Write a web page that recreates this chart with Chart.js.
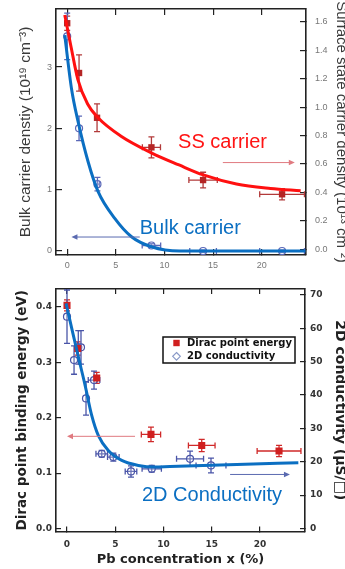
<!DOCTYPE html>
<html>
<head>
<meta charset="utf-8">
<script src="https://cdn.jsdelivr.net/npm/chart.js@4/dist/chart.umd.min.js"></script>
<style>
  html, body { margin: 0; padding: 0; background: #fff; }
  #wrap { position: relative; width: 345px; height: 569px; overflow: hidden; }
  #upper { position: absolute; left: 0; top: 0; }
  #lower { position: absolute; left: 0; top: 280px; }
</style>
</head>
<body>
<div id="wrap">
  <canvas id="upper" width="345" height="280"></canvas>
  <canvas id="lower" width="345" height="289"></canvas>
</div>
<script>
// Pb concentration x (%)
const xTickValues = [0, 5, 10, 15, 20];

// Upper panel: bulk carrier density (10^19 cm^-3, left) and surface-state carrier density (10^13 cm^-2, right)
const bulkTicks = [0, 1, 2, 3];
const ssTicks = [0, 0.2, 0.4, 0.6, 0.8, 1.0, 1.2, 1.4, 1.6];

const ssX    = [0, 1.22, 3.07, 8.66, 13.97, 22.09];
const ssY    = [1.59, 1.24, 0.925, 0.717, 0.487, 0.387];
const ssXErr = [0, 0, 0, 0.93, 1.46, 2.3];
const ssYErr = [0.05, 0.127, 0.098, 0.074, 0.055, 0.039];

const bulkX    = [0, 1.22, 3.11, 8.66, 13.97, 22.09];
const bulkY    = [3.5, 2.0, 1.09, 0.09, 0.0, 0.0];
const bulkXErr = [0, 0, 0.2, 0.95, 1.37, 2.3];
const bulkYErr = [0.38, 0.2, 0.11, 0.03, 0.02, 0.02];

const ssFitX = [-0.25, 0.4, 1.1, 2.1, 3.2, 5.5, 8.7, 11.5, 14, 17.4, 20.9, 24];
const ssFitY = [1.648, 1.423, 1.194, 1.022, 0.923, 0.797, 0.677, 0.593, 0.523, 0.459, 0.428, 0.412];

const bulkFitX = [-0.25, 0.44, 1.12, 2.15, 3.18, 4.89, 6.61, 8.66, 11.57, 15, 20, 24.5];
const bulkFitY = [3.52, 2.65, 2.11, 1.456, 0.967, 0.533, 0.233, 0.07, 0.0, 0.0, 0.0, 0.0];

// Lower panel: Dirac point binding energy (eV, left) and 2D conductivity (uS/sq, right)
const energyTicks = [0, 0.1, 0.2, 0.3, 0.4];
const condTicks = [0, 10, 20, 30, 40, 50, 60, 70];

const diracX    = [0, 1.11, 3.08, 8.7, 13.96, 21.97];
const diracY    = [0.403, 0.325, 0.272, 0.170, 0.150, 0.140];
const diracXErr = [0, 0, 0, 1.0, 1.38, 2.27];
const diracYErr = [0.01, 0.012, 0.01, 0.013, 0.011, 0.01];

const condX    = [0, 0.73, 1.17, 1.45, 1.97, 2.8, 3.6, 4.8, 6.63, 8.78, 12.75, 14.92];
const condY    = [63.5, 50.5, 54.3, 54.3, 39.0, 44.5, 22.4, 21.4, 17.1, 17.9, 20.9, 18.9];
const condXErr = [0, 0, 0, 0, 0, 0.6, 0.6, 0.6, 0.6, 1.0, 1.4, 1.55];
const condYErr = [8, 4.25, 5, 5, 5, 2.7, 1, 1.2, 1.7, 1, 2.3, 2.2];

const condFitX = [-0.1, 0.49, 1.17, 1.87, 2.56, 3.24, 4.28, 5.67, 7.39, 9.12, 10.67, 17.59, 23.97];
const condFitY = [67.5, 60.0, 51.5, 43.0, 33.9, 27.9, 23.4, 20.4, 18.9, 18.4, 18.6, 19.2, 19.7];

// Annotation arrows and captions, in data units of the named axis
const upperArrows = [
  { from: [7.46, 0.228], to: [0.44, 0.228], axis: 'yL', color: '#5a6ab0' },
  { from: [16.0, 0.61], to: [23.4, 0.61], axis: 'yR', color: '#e07a80' }
];
const upperNotes = [
  { text: 'SS carrier', x: 11.4, y: 0.748, axis: 'yR', color: '#ff1414' },
  { text: 'Bulk carrier', x: 7.46, y: 0.375, axis: 'yL', color: '#0b6fc2' }
];
const lowerArrows = [
  { from: [7.05, 0.1665], to: [0.0, 0.1665], axis: 'yL', color: '#e07a80' },
  { from: [16.9, 16.2], to: [23.1, 16.2], axis: 'yR', color: '#5a6ab0' }
];
const lowerNotes = [
  { text: '2D Conductivity', x: 7.77, y: 0.06, axis: 'yL', color: '#0b6fc2' }
];

const FONT = "'Liberation Sans', Arial, sans-serif";
const FONT_LOWER = "'DejaVu Sans', Verdana, sans-serif";
Chart.defaults.font.family = FONT;

const toXY = (xs, ys) => xs.map((x, i) => ({ x, y: ys[i] }));

// Error bars, drawn from each dataset's errX / errY arrays
const errorBars = {
  id: 'errorBars',
  beforeDatasetsDraw(chart) {
    const { ctx, chartArea: a } = chart;
    ctx.save();
    ctx.beginPath();
    ctx.rect(a.left, a.top, a.right - a.left, a.bottom - a.top);
    ctx.clip();
    chart.data.datasets.forEach((ds, i) => {
      if (!ds.errY) return;
      const meta = chart.getDatasetMeta(i);
      const xs = chart.scales[meta.xAxisID], ys = chart.scales[meta.yAxisID];
      ctx.strokeStyle = ds.errColor;
      ctx.lineWidth = 1.3;
      ds.data.forEach((p, j) => {
        const px = xs.getPixelForValue(p.x), py = ys.getPixelForValue(p.y);
        const ey = ds.errY[j], ex = ds.errX[j], cap = 3;
        ctx.beginPath();
        if (ey > 0) {
          const t = ys.getPixelForValue(p.y + ey), b = ys.getPixelForValue(p.y - ey);
          ctx.moveTo(px, t); ctx.lineTo(px, b);
          ctx.moveTo(px - cap, t); ctx.lineTo(px + cap, t);
          ctx.moveTo(px - cap, b); ctx.lineTo(px + cap, b);
        }
        if (ex > 0) {
          const l = xs.getPixelForValue(p.x - ex), r = xs.getPixelForValue(p.x + ex);
          ctx.moveTo(l, py); ctx.lineTo(r, py);
          ctx.moveTo(l, py - cap); ctx.lineTo(l, py + cap);
          ctx.moveTo(r, py - cap); ctx.lineTo(r, py + cap);
        }
        ctx.stroke();
      });
    });
    ctx.restore();
  }
};

// Arrows pointing to the axis a series belongs to, plus colored captions
const annotations = {
  id: 'annotations',
  afterDatasetsDraw(chart, args, opts) {
    const { ctx } = chart;
    const xs = chart.scales.x;
    ctx.save();
    (opts.arrows || []).forEach(a => {
      const ys = chart.scales[a.axis];
      const x1 = xs.getPixelForValue(a.from[0]), y1 = ys.getPixelForValue(a.from[1]);
      const x2 = xs.getPixelForValue(a.to[0]), y2 = ys.getPixelForValue(a.to[1]);
      const dir = Math.sign(x2 - x1);
      ctx.strokeStyle = a.color; ctx.fillStyle = a.color; ctx.lineWidth = 1;
      ctx.beginPath(); ctx.moveTo(x1, y1); ctx.lineTo(x2 - dir * 4, y2); ctx.stroke();
      ctx.beginPath();
      ctx.moveTo(x2, y2);
      ctx.lineTo(x2 - dir * 6, y2 - 2.8);
      ctx.lineTo(x2 - dir * 6, y2 + 2.8);
      ctx.closePath(); ctx.fill();
    });
    (opts.notes || []).forEach(n => {
      const ys = chart.scales[n.axis];
      ctx.font = '20px ' + FONT;
      ctx.fillStyle = n.color;
      ctx.textAlign = 'left';
      ctx.textBaseline = 'middle';
      ctx.fillText(n.text, xs.getPixelForValue(n.x), ys.getPixelForValue(n.y));
    });
    ctx.restore();
  }
};

// Boxed legend inside the lower plot
const boxLegend = {
  id: 'boxLegend',
  afterDraw(chart, args, opts) {
    if (!opts.items) return;
    const { ctx, chartArea } = chart;
    const x = chartArea.left + opts.dx, y = chartArea.top + opts.dy;
    ctx.save();
    ctx.fillStyle = '#fff';
    ctx.fillRect(x, y, opts.w, opts.h);
    ctx.strokeStyle = '#111'; ctx.lineWidth = 1.5;
    ctx.strokeRect(x, y, opts.w, opts.h);
    ctx.font = 'bold 10px ' + FONT_LOWER;
    ctx.textBaseline = 'middle'; ctx.textAlign = 'left';
    opts.items.forEach((idx, k) => {
      const ds = chart.data.datasets[idx];
      const cy = y + 6 + k * 13.3, mx = x + 13.5;
      if (ds.pointStyle === 'rect') {
        ctx.fillStyle = ds.backgroundColor;
        ctx.fillRect(mx - 3.2, cy - 3.2, 6.4, 6.4);
      } else {
        ctx.strokeStyle = '#8a9ac8'; ctx.lineWidth = 1.2;
        ctx.beginPath();
        ctx.moveTo(mx, cy - 3.8); ctx.lineTo(mx + 3.8, cy);
        ctx.lineTo(mx, cy + 3.8); ctx.lineTo(mx - 3.8, cy);
        ctx.closePath(); ctx.stroke();
      }
      ctx.fillStyle = '#111';
      ctx.fillText(ds.label, x + 24, cy + 0.5);
    });
    ctx.restore();
  }
};

// Fixed box sizes so every panel keeps the same plot frame
const fixWidth = w => s => { s.width = w; s.paddingTop = 0; s.paddingBottom = 0; };
const fixHeight = h => s => { s.height = h; s.paddingLeft = 0; s.paddingRight = 0; };

function xAxes(min, max, boxHeight, tickLen, tickFont, tickColor, pad, title) {
  return {
    x: {
      type: 'linear', position: 'bottom', min, max,
      afterBuildTicks: s => { s.ticks = xTickValues.map(v => ({ value: v })); },
      afterFit: fixHeight(boxHeight),
      grid: { drawOnChartArea: false, tickLength: -tickLen, color: '#222', lineWidth: 1.2 },
      border: { color: '#222', width: 1.6 },
      ticks: { padding: pad, color: tickColor, font: tickFont, maxRotation: 0 },
      title: title || { display: false }
    },
    xTop: {
      type: 'linear', position: 'top', min, max,
      afterBuildTicks: s => { s.ticks = xTickValues.map(v => ({ value: v })); },
      afterFit: fixHeight(0),
      grid: { drawOnChartArea: false, tickLength: -tickLen, color: '#222', lineWidth: 1.2 },
      border: { color: '#222', width: 1.6 },
      ticks: { display: false }
    }
  };
}

// Upper panel
new Chart(document.getElementById('upper'), {
  type: 'scatter',
  data: {
    datasets: [
      { type: 'line', label: 'SS fit', data: toXY(ssFitX, ssFitY), yAxisID: 'yR',
        borderColor: '#ff1010', borderWidth: 3, pointRadius: 0, fill: false,
        cubicInterpolationMode: 'monotone', order: 0 },
      { type: 'line', label: 'Bulk fit', data: toXY(bulkFitX, bulkFitY), yAxisID: 'yL',
        borderColor: '#0b6fc2', borderWidth: 3, pointRadius: 0, fill: false,
        cubicInterpolationMode: 'monotone', order: 0 },
      { label: 'SS carrier', data: toXY(ssX, ssY), yAxisID: 'yR',
        pointStyle: 'rect', pointRadius: 4.5, backgroundColor: '#b52525', borderColor: '#b52525',
        borderWidth: 0, errX: ssXErr, errY: ssYErr, errColor: '#b23a3a', order: 1 },
      { label: 'Bulk carrier', data: toXY(bulkX, bulkY), yAxisID: 'yL',
        pointStyle: 'circle', pointRadius: 3.5, backgroundColor: 'rgba(255,255,255,0.2)',
        borderColor: '#5b68b8', borderWidth: 1.2, errX: bulkXErr, errY: bulkYErr,
        errColor: '#5b68b8', order: 1 }
    ]
  },
  options: {
    responsive: false, animation: false,
    layout: { padding: { top: 9, left: 0, right: 0, bottom: 0 } },
    plugins: {
      legend: { display: false }, tooltip: { enabled: false },
      annotations: { arrows: upperArrows, notes: upperNotes }
    },
    scales: Object.assign(
      xAxes(-1.15, 24.55, 25, 6, { size: 9 }, '#777', 11.6),
      {
        yL: {
          type: 'linear', position: 'left', min: -0.065, max: 3.946,
          afterBuildTicks: s => { s.ticks = bulkTicks.map(v => ({ value: v })); },
          afterFit: fixWidth(56),
          grid: { drawOnChartArea: false, tickLength: -6, color: '#222', lineWidth: 1.2 },
          border: { color: '#222', width: 1.6 },
          ticks: { padding: 10, color: '#777', font: { size: 9 } },
          title: { display: true, text: 'Bulk carrier denstiy (10\u00b9\u2079 cm\u207b\u00b3)',
                   color: '#3a3a3a', font: { size: 15.5 }, padding: { top: 16.5, bottom: 0 } }
        },
        yR: {
          type: 'linear', position: 'right', min: -0.040, max: 1.690,
          afterBuildTicks: s => { s.ticks = ssTicks.map(v => ({ value: v })); },
          afterFit: fixWidth(39),
          grid: { drawOnChartArea: false, tickLength: -6, color: '#222', lineWidth: 1.2 },
          border: { color: '#222', width: 1.6 },
          ticks: { padding: 15, color: '#777', font: { size: 9 }, callback: v => v.toFixed(1) },
          title: { display: true, text: 'Surface state carrier density (10\u00b9\u00b3 cm\u207b\u00b2)',
                   color: '#3a3a3a', font: { size: 15 }, padding: { top: -4.8, bottom: 0 } }
        }
      }
    )
  },
  plugins: [errorBars, annotations]
});

// Lower panel
new Chart(document.getElementById('lower'), {
  type: 'scatter',
  data: {
    datasets: [
      { type: 'line', label: '2D conductivity fit', data: toXY(condFitX, condFitY), yAxisID: 'yR',
        borderColor: '#0b6fc2', borderWidth: 3, pointRadius: 0, fill: false,
        cubicInterpolationMode: 'monotone', order: 0 },
      { label: 'Dirac point energy', data: toXY(diracX, diracY), yAxisID: 'yL',
        pointStyle: 'rect', pointRadius: 5, backgroundColor: '#d01f1f', borderColor: '#d01f1f',
        borderWidth: 0, errX: diracXErr, errY: diracYErr, errColor: '#d02a2a', order: 1 },
      { label: '2D conductivity', data: toXY(condX, condY), yAxisID: 'yR',
        pointStyle: 'circle', pointRadius: 3.5, backgroundColor: 'rgba(255,255,255,0.2)',
        borderColor: '#4a55a8', borderWidth: 1.2, errX: condXErr, errY: condYErr,
        errColor: '#4a55a8', order: 1 }
    ]
  },
  options: {
    responsive: false, animation: false,
    layout: { padding: { top: 9, left: 0, right: 0, bottom: 0 } },
    plugins: {
      legend: { display: false }, tooltip: { enabled: false },
      annotations: { arrows: lowerArrows, notes: lowerNotes },
      boxLegend: { items: [1, 2], dx: 107, dy: 48, w: 132, h: 26 }
    },
    scales: Object.assign(
      xAxes(-1.14, 24.66, 37.5, 5, { family: FONT_LOWER, size: 9, weight: 'bold' }, '#333', 12.5,
        { display: true, text: 'Pb concentration x (%)', color: '#222',
          font: { family: FONT_LOWER, size: 13, weight: 'bold' }, padding: { top: 0, bottom: 1.2 } }),
      {
        yL: {
          type: 'linear', position: 'left', min: -0.0054, max: 0.4326,
          afterBuildTicks: s => { s.ticks = energyTicks.map(v => ({ value: v })); },
          afterFit: fixWidth(56),
          grid: { drawOnChartArea: false, tickLength: -5, color: '#222', lineWidth: 1.2 },
          border: { color: '#222', width: 1.6 },
          ticks: { padding: 9, color: '#333', font: { family: FONT_LOWER, size: 9, weight: 'bold' },
                   callback: v => v.toFixed(1) },
          title: { display: true, text: 'Dirac point binding energy (eV)', color: '#222',
                   font: { family: FONT_LOWER, size: 13.5, weight: 'bold' }, padding: { top: 14.5, bottom: 0 } }
        },
        yR: {
          type: 'linear', position: 'right', min: -0.9, max: 71.8,
          afterBuildTicks: s => { s.ticks = condTicks.map(v => ({ value: v })); },
          afterFit: fixWidth(40),
          grid: { drawOnChartArea: false, tickLength: -5, color: '#222', lineWidth: 1.2 },
          border: { color: '#222', width: 1.6 },
          ticks: { padding: 10, color: '#333', font: { family: FONT_LOWER, size: 9, weight: 'bold' } },
          title: { display: true, text: '2D conductivity (\u03bcS/\u25a1)', color: '#222',
                   font: { family: FONT_LOWER, size: 14, weight: 'bold' }, padding: { top: -2.8, bottom: 0 } }
        }
      }
    )
  },
  plugins: [errorBars, annotations, boxLegend]
});
</script>
</body>
</html>
